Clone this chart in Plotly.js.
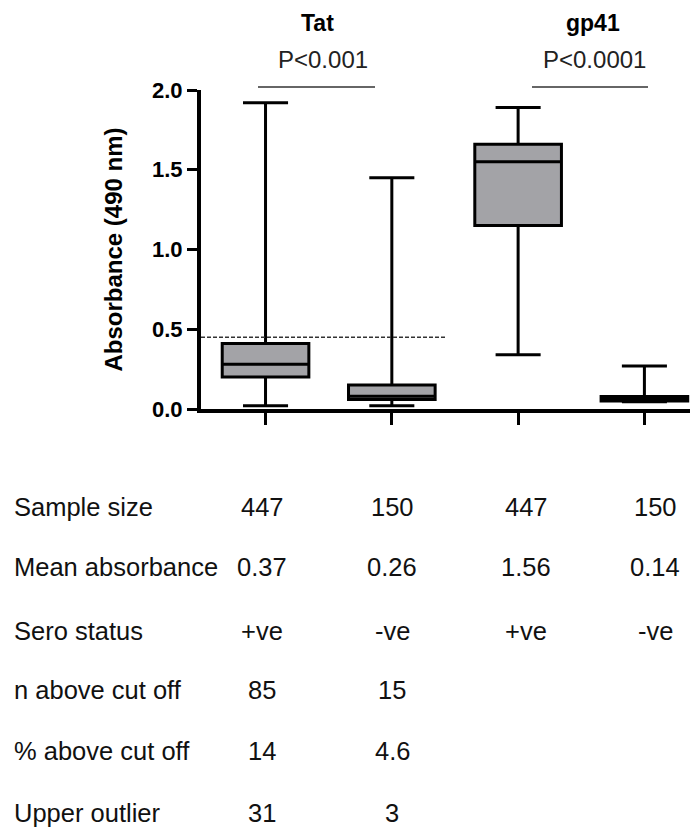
<!DOCTYPE html>
<html>
<head>
<meta charset="utf-8">
<script src="https://cdn.plot.ly/plotly-3.0.1.min.js"></script>
<style>
  html, body { margin: 0; padding: 0; background: #ffffff; }
  #chart { width: 699px; height: 827px; }
</style>
</head>
<body>
<div id="chart"></div>
<script>
// ---------- data ----------
const categories = ["Tat +ve", "Tat -ve", "gp41 +ve", "gp41 -ve"];
const q1Values = [0.20, 0.06, 1.15, 0.05];
const medianValues = [0.28, 0.08, 1.55, 0.065];
const q3Values = [0.41, 0.15, 1.66, 0.078];
const lowerFenceValues = [0.02, 0.02, 0.34, 0.045];
const upperFenceValues = [1.92, 1.45, 1.89, 0.27];
const cutOffValue = 0.45;
const yTickValues = [0, 0.5, 1.0, 1.5, 2.0];

const groupTitles = ["Tat", "gp41"];
const pValueLabels = ["P<0.001", "P<0.0001"];

const rowLabels = ["Sample size", "Mean absorbance", "Sero status",
                   "n above cut off", "% above cut off", "Upper outlier"];
const sampleSize = ["447", "150", "447", "150"];
const meanAbsorbance = ["0.37", "0.26", "1.56", "0.14"];
const seroStatus = ["+ve", "-ve", "+ve", "-ve"];
const nAboveCutOff = ["85", "15", "", ""];
const pctAboveCutOff = ["14", "4.6", "", ""];
const upperOutlier = ["31", "3", "", ""];
const tableRows = [sampleSize, meanAbsorbance, seroStatus, nAboveCutOff, pctAboveCutOff, upperOutlier];

// ---------- layout geometry ----------
const W = 699, H = 827;
const ML = 201, MR = 9, MT = 90, MB = 418;
const PW = W - ML - MR, PH = H - MT - MB;
const PB = H - MB;
const px = x => (x - ML) / PW;     // pixel -> paper x
const py = y => (PB - y) / PH;     // pixel -> paper y

const FONT = "Liberation Sans, Arial, Helvetica, sans-serif";

const trace = {
  type: "box",
  x: categories,
  q1: q1Values,
  median: medianValues,
  q3: q3Values,
  lowerfence: lowerFenceValues,
  upperfence: upperFenceValues,
  boxpoints: false,
  width: 0.686,
  whiskerwidth: 0.52,
  fillcolor: "#a3a3a7",
  line: { color: "#000000", width: 3 },
  hoverinfo: "skip",
  showlegend: false
};

const annotations = [];
// group titles and p-values
const groupTitleX = [317.5, 593];
const pValueX = [322.5, 594];
groupTitles.forEach((t, i) => {
  annotations.push({
    xref: "paper", yref: "paper", x: px(groupTitleX[i]), y: py(23),
    text: t, showarrow: false, xanchor: "center", yanchor: "middle",
    font: { family: FONT, size: 23, color: "#000", weight: "bold" }
  });
  annotations.push({
    xref: "paper", yref: "paper", x: px(pValueX[i]), y: py(60),
    text: pValueLabels[i], showarrow: false, xanchor: "center", yanchor: "middle",
    font: { family: FONT, size: 24, color: "#222" }
  });
});

// table below the chart
const rowY = [507, 567, 631, 690, 751, 813];
const colX = [262, 392, 526, 655];
rowLabels.forEach((lab, r) => {
  annotations.push({
    xref: "paper", yref: "paper", x: px(12), y: py(rowY[r]),
    text: lab, showarrow: false, xanchor: "left", yanchor: "middle",
    font: { family: FONT, size: 25.5, color: "#111" }
  });
  tableRows[r].forEach((v, c) => {
    if (v === "") return;
    annotations.push({
      xref: "paper", yref: "paper", x: px(colX[c]), y: py(rowY[r]),
      text: v, showarrow: false, xanchor: "center", yanchor: "middle",
      font: { family: FONT, size: 25.5, color: "#111" }
    });
  });
});

const shapes = [
  // cut-off dashed line
  { type: "line", xref: "paper", yref: "y", x0: 0, x1: px(447), y0: cutOffValue, y1: cutOffValue,
    line: { color: "#333", width: 1.3, dash: "4px,2px" } },
  // p-value bars
  { type: "line", xref: "paper", yref: "paper", x0: px(258), x1: px(375), y0: py(87), y1: py(87),
    line: { color: "#666", width: 2 } },
  { type: "line", xref: "paper", yref: "paper", x0: px(532), x1: px(648), y0: py(87), y1: py(87),
    line: { color: "#666", width: 2 } }
];

const layout = {
  width: W, height: H,
  margin: { l: ML, r: MR, t: MT, b: MB, pad: 0 },
  paper_bgcolor: "#ffffff", plot_bgcolor: "#ffffff",
  showlegend: false,
  xaxis: {
    type: "category",
    range: [-0.511, 3.361],
    showgrid: false, zeroline: false,
    showline: true, linecolor: "#000", linewidth: 4,
    ticks: "outside", ticklen: 12, tickwidth: 3, tickcolor: "#000",
    showticklabels: false
  },
  yaxis: {
    range: [0, 2.0],
    tickvals: yTickValues,
    tickformat: ".1f",
    showgrid: false, zeroline: false,
    showline: true, linecolor: "#000", linewidth: 4,
    ticks: "outside", ticklen: 10, tickwidth: 3, tickcolor: "#000",
    tickfont: { family: FONT, size: 22, color: "#000", weight: "bold" },
    title: { text: "Absorbance (490 nm)", standoff: 24,
             font: { family: FONT, size: 24, color: "#000", weight: "bold" } }
  },
  shapes: shapes,
  annotations: annotations
};

Plotly.newPlot("chart", [trace], layout, { staticPlot: true, displayModeBar: false });
</script>
</body>
</html>
